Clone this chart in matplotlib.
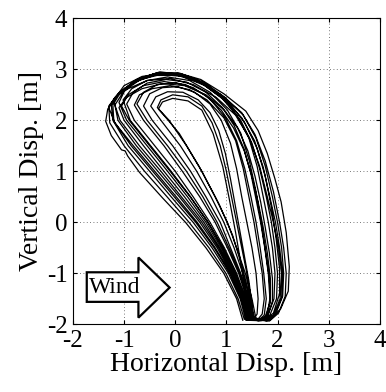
import matplotlib
matplotlib.use("Agg")
import matplotlib.pyplot as plt
from matplotlib.patches import Polygon

plt.rcParams['font.family'] = ['Liberation Serif', 'DejaVu Serif']

# trajectory loops, (horizontal, vertical) in metres
# each loop: up the left branch, over the top, down the right branch
loop_a = [(1.32,-1.92),(1.20,-1.50),(0.95,-1.00),(0.60,-0.50),(0.20,0.00),(-0.25,0.48),(-0.70,0.98),
          (-0.93,1.30),(-0.98,1.40),(-1.05,1.42),(-1.25,1.70),(-1.36,1.98),(-1.32,2.22),
          (-1.15,2.48),(-0.85,2.72),(-0.45,2.90),(0.05,2.93),(0.50,2.80),(0.95,2.52),
          (1.38,2.18),(1.62,1.80),(1.80,1.35),(1.95,0.85),(2.07,0.40),(2.17,-0.20),(2.23,-0.87),
          (2.21,-1.35),(2.06,-1.70),(1.84,-1.93)]
loop_b = [(1.45,-1.88),(1.33,-1.50),(1.12,-1.00),(0.85,-0.50),(0.52,0.00),(0.12,0.50),(-0.28,1.00),
          (-0.70,1.50),(-1.08,2.00),(-1.18,2.30),
          (-1.00,2.58),(-0.68,2.80),(-0.28,2.90),(0.15,2.86),(0.58,2.68),(0.98,2.38),
          (1.28,2.00),(1.50,1.55),(1.65,1.05),(1.78,0.50),(1.88,0.00),(1.95,-0.50),(2.00,-1.00),
          (1.98,-1.50),(1.85,-1.82),(1.70,-1.92)]
loop_c = [(1.52,-1.90),(1.43,-1.50),(1.28,-1.00),(1.08,-0.50),(0.88,0.00),(0.60,0.50),(0.30,1.00),
          (-0.05,1.50),(-0.45,2.00),(-0.62,2.28),
          (-0.50,2.52),(-0.25,2.64),(0.05,2.66),(0.38,2.55),(0.68,2.32),
          (0.90,2.00),(1.08,1.55),(1.20,1.05),(1.30,0.50),(1.40,0.00),(1.50,-0.50),(1.58,-1.00),
          (1.62,-1.50),(1.60,-1.80),(1.52,-1.92)]
loop_d = [(1.38,-1.92),(1.27,-1.50),(1.04,-1.00),(0.72,-0.50),(0.35,0.00),(-0.08,0.50),(-0.50,1.00),
          (-0.92,1.50),(-1.22,2.00),(-1.25,2.30),
          (-1.08,2.55),(-0.78,2.78),(-0.38,2.92),(0.10,2.92),(0.55,2.75),(0.97,2.45),
          (1.33,2.10),(1.58,1.65),(1.76,1.10),(1.90,0.50),(2.00,0.00),(2.08,-0.50),(2.12,-1.00),
          (2.10,-1.45),(1.97,-1.78),(1.80,-1.93)]
loop_e = [(1.50,-1.86),(1.38,-1.50),(1.20,-1.00),(0.96,-0.50),(0.68,0.00),(0.35,0.50),(0.00,1.00),
          (-0.40,1.50),(-0.80,2.00),(-0.95,2.32),
          (-0.82,2.55),(-0.55,2.73),(-0.18,2.80),(0.22,2.75),(0.60,2.55),(0.92,2.25),
          (1.15,1.90),(1.34,1.45),(1.48,0.95),(1.58,0.45),(1.67,0.00),(1.75,-0.50),(1.82,-1.00),
          (1.85,-1.50),(1.80,-1.80),(1.68,-1.93)]
loop_f = [(1.55,-1.90),(1.46,-1.45),(1.30,-0.85),(1.12,-0.25),(0.86,0.35),(0.47,1.09),(0.08,1.74),
          (-0.18,2.05),(-0.33,2.22),
          (-0.25,2.36),(-0.05,2.43),(0.25,2.38),(0.52,2.20),
          (0.74,1.74),(0.93,1.09),(1.06,0.44),(1.18,-0.20),(1.30,-0.90),(1.40,-1.50),(1.42,-1.85)]
loop_g = [(1.42,-1.90),(1.30,-1.50),(1.08,-1.00),(0.78,-0.50),(0.43,0.00),(0.02,0.50),(-0.40,1.00),
          (-0.82,1.50),(-1.18,1.95),(-1.30,2.25),
          (-1.18,2.45),(-0.92,2.62),(-0.55,2.78),(-0.10,2.82),(0.35,2.70),(0.80,2.45),
          (1.18,2.10),(1.45,1.65),(1.65,1.10),(1.80,0.50),(1.92,0.00),(2.02,-0.50),(2.08,-1.00),
          (2.05,-1.50),(1.92,-1.82),(1.75,-1.92)]
loop_h = [(1.47,-1.92),(1.36,-1.50),(1.16,-1.00),(0.90,-0.50),(0.60,0.00),(0.24,0.50),(-0.15,1.00),
          (-0.55,1.50),(-0.95,2.00),(-1.10,2.35),
          (-0.98,2.60),(-0.70,2.82),(-0.30,2.95),(0.12,2.90),(0.52,2.72),(0.90,2.45),
          (1.20,2.10),(1.44,1.65),(1.60,1.10),(1.72,0.50),(1.82,0.00),(1.90,-0.50),(1.95,-1.00),
          (1.93,-1.50),(1.82,-1.80),(1.66,-1.92)]
loop_i = [(1.50,-1.90),(1.40,-1.50),(1.24,-1.00),(1.02,-0.50),(0.78,0.00),(0.48,0.50),(0.14,1.00),
          (-0.22,1.50),(-0.62,2.00),(-0.80,2.30),
          (-0.70,2.50),(-0.45,2.62),(-0.10,2.68),(0.28,2.60),(0.62,2.40),
          (0.95,2.05),(1.18,1.60),(1.33,1.05),(1.44,0.50),(1.54,0.00),(1.62,-0.50),(1.70,-1.00),
          (1.74,-1.50),(1.70,-1.80),(1.60,-1.92)]
loop_j = [(1.35,-1.90),(1.23,-1.50),(0.99,-1.00),(0.66,-0.50),(0.27,0.00),(-0.16,0.50),(-0.60,1.00),
          (-1.00,1.50),(-1.28,1.95),(-1.30,2.28),
          (-1.12,2.52),(-0.82,2.74),(-0.42,2.88),(0.05,2.88),(0.48,2.74),(0.90,2.50),
          (1.30,2.15),(1.56,1.72),(1.76,1.20),(1.92,0.60),(2.04,0.00),(2.12,-0.50),(2.17,-1.00),
          (2.15,-1.45),(2.02,-1.78),(1.85,-1.93)]
loop_k = [(1.44,-1.88),(1.33,-1.50),(1.14,-1.00),(0.87,-0.50),(0.56,0.00),(0.18,0.50),(-0.22,1.00),
          (-0.62,1.50),(-1.00,2.00),(-1.10,2.25),
          (-0.95,2.45),(-0.65,2.62),(-0.25,2.72),(0.18,2.68),(0.60,2.50),(0.96,2.20),
          (1.22,1.85),(1.42,1.40),(1.56,0.90),(1.67,0.40),(1.76,-0.10),(1.84,-0.60),(1.90,-1.10),
          (1.90,-1.55),(1.80,-1.85),(1.64,-1.93)]
loop_l = [(1.40,-1.92),(1.29,-1.50),(1.07,-1.00),(0.76,-0.50),(0.40,0.00),(-0.02,0.50),(-0.44,1.00),
          (-0.86,1.50),(-1.20,1.98),(-1.22,2.30),
          (-1.05,2.58),(-0.75,2.80),(-0.35,2.93),(0.10,2.90),(0.55,2.72),(0.95,2.42),
          (1.30,2.05),(1.55,1.60),(1.72,1.08),(1.85,0.50),(1.96,0.00),(2.04,-0.50),(2.10,-1.00),
          (2.08,-1.48),(1.95,-1.80),(1.78,-1.93)]
loop_m = [(1.54,-1.88),(1.45,-1.50),(1.32,-1.00),(1.15,-0.50),(0.95,0.00),(0.70,0.50),(0.42,1.00),
          (0.10,1.50),(-0.28,2.00),(-0.48,2.28),
          (-0.38,2.46),(-0.15,2.56),(0.15,2.55),(0.45,2.40),(0.68,2.15),
          (0.85,1.80),(0.98,1.35),(1.08,0.85),(1.17,0.35),(1.26,-0.15),(1.35,-0.65),(1.44,-1.15),
          (1.50,-1.60),(1.48,-1.88)]
loop_n = [(1.58,-1.90),(1.50,-1.50),(1.37,-1.00),(1.20,-0.50),(1.02,0.00),(0.78,0.50),(0.52,1.00),
          (0.22,1.50),(-0.12,2.00),(-0.35,2.25),
          (-0.28,2.40),(-0.05,2.50),(0.25,2.46),(0.52,2.28),
          (0.72,1.95),(0.88,1.50),(1.00,1.00),(1.10,0.50),(1.20,0.00),(1.30,-0.50),(1.40,-1.00),
          (1.48,-1.50),(1.50,-1.85)]
loop_o = [(1.52,-1.92),(1.42,-1.50),(1.26,-1.00),(1.05,-0.50),(0.82,0.00),(0.54,0.50),(0.22,1.00),
          (-0.15,1.50),(-0.55,2.00),(-0.75,2.32),
          (-0.62,2.55),(-0.35,2.70),(0.00,2.74),(0.35,2.64),(0.68,2.42),
          (0.98,2.05),(1.20,1.60),(1.36,1.05),(1.48,0.50),(1.58,0.00),(1.66,-0.50),(1.73,-1.00),
          (1.78,-1.50),(1.74,-1.82),(1.63,-1.92)]
loop_p = [(1.48,-1.90),(1.37,-1.50),(1.18,-1.00),(0.93,-0.50),(0.64,0.00),(0.30,0.50),(-0.08,1.00),
          (-0.48,1.50),(-0.88,2.00),(-1.02,2.40),
          (-0.85,2.62),(-0.55,2.78),(-0.15,2.85),(0.28,2.78),(0.68,2.55),
          (1.02,2.20),(1.28,1.75),(1.45,1.20),(1.58,0.60),(1.68,0.00),(1.77,-0.60),(1.84,-1.10),
          (1.86,-1.55),(1.78,-1.84),(1.66,-1.92)]
loop_q = [(1.43,-1.90),(1.32,-1.50),(1.10,-1.00),(0.82,-0.50),(0.48,0.00),(0.08,0.50),(-0.34,1.00),
          (-0.76,1.50),(-1.12,2.00),(-1.20,2.40),
          (-1.00,2.68),(-0.65,2.86),(-0.20,2.93),(0.25,2.86),(0.68,2.65),(1.05,2.35),
          (1.36,1.95),(1.60,1.45),(1.76,0.90),(1.88,0.30),(1.97,-0.30),(2.04,-0.90),
          (2.04,-1.40),(1.92,-1.78),(1.75,-1.92)]
loop_r = [(1.47,-1.88),(1.36,-1.50),(1.17,-1.00),(0.93,-0.50),(0.64,0.00),(0.29,0.50),(-0.10,1.00),
          (-0.50,1.50),(-0.90,2.00),(-1.05,2.28),
          (-0.92,2.50),(-0.62,2.68),(-0.22,2.76),(0.20,2.70),(0.58,2.50),(0.90,2.20),
          (1.14,1.85),(1.35,1.40),(1.50,0.90),(1.62,0.40),(1.72,-0.10),(1.80,-0.60),(1.86,-1.10),
          (1.86,-1.55),(1.76,-1.85),(1.62,-1.93)]

loop_order = [loop_a, loop_g, loop_e, loop_d, loop_k, loop_i, loop_j, loop_h, loop_c,
              loop_l, loop_b, loop_m, loop_q, loop_o, loop_r, loop_p, loop_n, loop_f]

xticks = [-2, -1, 0, 1, 2, 3, 4]
yticks = [-2, -1, 0, 1, 2, 3, 4]

fig = plt.figure(figsize=(3.86, 3.92), dpi=100)
ax = fig.add_axes([0.189, 0.1727, 0.795, 0.7806])

# one continuous trajectory, loops joined at the bottom
xs = []
ys = []
for loop in loop_order:
    for p in loop:
        xs.append(p[0])
        ys.append(p[1])
ax.plot(xs, ys, color='black', linewidth=0.9)

ax.set_xlim(-2, 4)
ax.set_ylim(-2, 4)
ax.set_xticks(xticks)
ax.set_yticks(yticks)
ax.set_xticklabels([str(t) for t in xticks])
ax.set_yticklabels([str(t) for t in yticks])
ax.tick_params(direction='in', length=3, labelsize=18, pad=4, top=True, right=True)
ax.grid(True, linestyle=(0, (1, 3)), color='black', linewidth=0.6, alpha=0.7)
for s in ax.spines.values():
    s.set_linewidth(0.8)

ax.set_xlabel('Horizontal Disp. [m]', fontsize=20, labelpad=0)
ax.set_ylabel('Vertical Disp. [m]', fontsize=20, labelpad=2)

# wind arrow
arrow = Polygon([(-1.73, -0.98), (-0.72, -0.98), (-0.72, -0.69), (-0.11, -1.28),
                 (-0.72, -1.87), (-0.72, -1.56), (-1.73, -1.56)],
                closed=True, facecolor='white', edgecolor='black', linewidth=1.6, zorder=5)
ax.add_patch(arrow)
ax.text(-1.68, -1.28, 'Wind', fontsize=17, ha='left', va='center', zorder=6)

fig.savefig('out.png', dpi=100)
